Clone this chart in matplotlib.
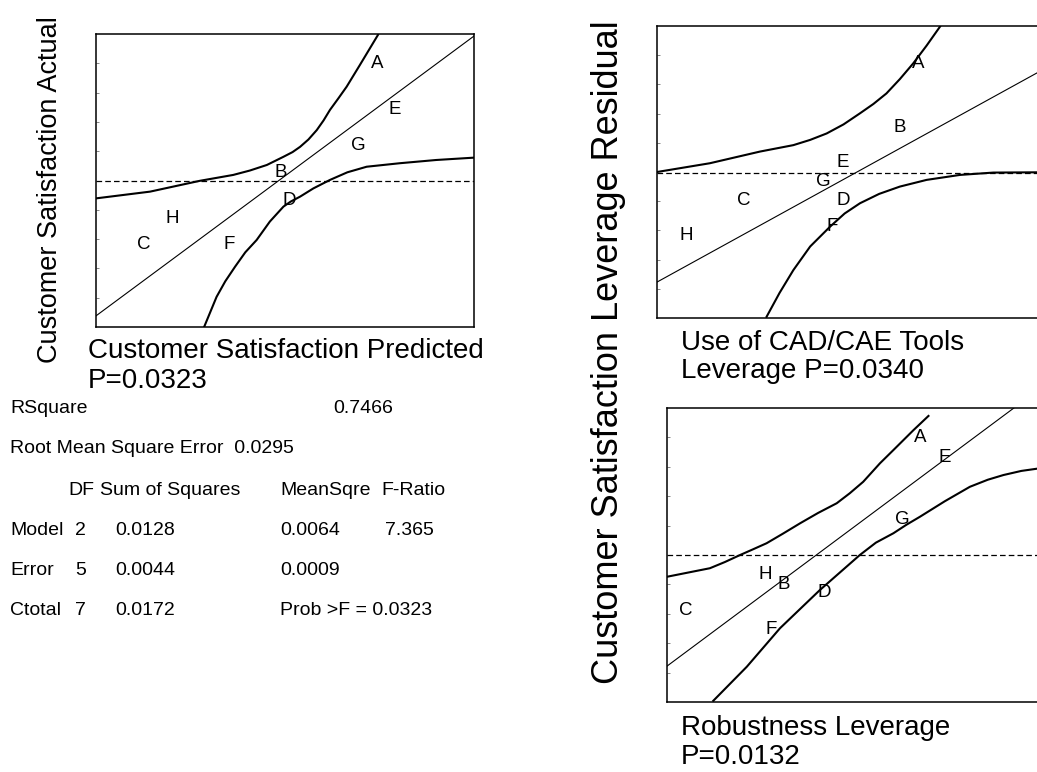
import matplotlib
matplotlib.use("Agg")
import matplotlib.pyplot as plt

plt.rcParams["font.family"] = ["Liberation Sans", "DejaVu Sans"]

# =====================================================
# DATA  (each panel on a 0-100 by 0-100 scale)
# =====================================================

# ----- Actual by Predicted -----
p1_fit_x = [0, 100]
p1_fit_y = [3.8, 99.3]
p1_upper_x = [0, 14.3, 27.5, 36.3, 40.7, 45.2, 49.6, 52.0, 54.0, 56.2, 58.4,
              60.2, 61.9, 64.1, 66.3, 69.8, 74.6]
p1_upper_y = [43.9, 46.2, 49.9, 51.9, 53.4, 55.3, 58.1, 59.7, 61.5, 64.0, 67.2,
              70.5, 74.1, 78.0, 82.0, 89.4, 99.7]
p1_lower_x = [28.6, 31.9, 34.2, 36.8, 39.5, 42.5, 46.0, 49.6, 51.5, 54.0, 57.5,
              61.9, 66.5, 71.6, 80.4, 90.0, 100]
p1_lower_y = [0.0, 10.3, 15.6, 20.6, 25.5, 29.7, 36.0, 41.1, 42.8, 44.5, 47.3,
              50.2, 52.8, 54.7, 55.9, 57.0, 57.8]
p1_mean = 49.8
p1_labels = ["A", "B", "C", "D", "E", "F", "G", "H"]
p1_lab_x = [74.3, 48.9, 12.7, 51.1, 79.1, 35.2, 69.3, 20.1]
p1_lab_y = [89.8, 52.6, 28.0, 43.3, 74.4, 28.3, 61.8, 37.2]

# ----- Use of CAD/CAE Tools leverage -----
p2_fit_x = [0, 100]
p2_fit_y = [12.3, 84.5]
p2_upper_x = [0, 13.8, 26.9, 35.6, 40.0, 44.3, 48.7, 53.0, 56.5, 59.9, 63.4,
              66.9, 70.4, 73.9]
p2_upper_y = [50.0, 53.0, 57.0, 59.2, 61.0, 63.2, 66.3, 70.1, 73.3, 76.9, 81.8,
              87.2, 93.3, 99.8]
p2_lower_x = [28.6, 32.0, 35.6, 40.0, 45.2, 49.0, 53.0, 58.0, 63.4, 70.4, 79.1,
              87.8, 100]
p2_lower_y = [0.4, 8.6, 16.4, 24.5, 31.3, 35.8, 39.3, 42.5, 45.0, 47.3, 49.0,
              49.8, 49.9]
p2_mean = 49.7
p2_labels = ["A", "B", "C", "D", "E", "F", "G", "H"]
p2_lab_x = [68.1, 63.4, 22.7, 48.6, 48.6, 45.7, 43.3, 7.6]
p2_lab_y = [87.0, 65.4, 40.4, 40.4, 53.1, 31.5, 46.6, 28.1]

# ----- Robustness leverage -----
p3_fit_x = [0, 93.0]
p3_fit_y = [12.2, 100]
p3_upper_x = [0, 11.5, 15.5, 19.6, 23.0, 26.7, 31.0, 35.7, 40.5, 45.5, 49.0,
              52.6, 57.1, 60.7, 66.1, 70.1]
p3_upper_y = [42.6, 45.5, 47.6, 50.0, 51.9, 54.0, 57.2, 60.8, 64.3, 67.6, 71.0,
              74.9, 81.2, 85.7, 92.5, 97.3]
p3_lower_x = [12.4, 21.4, 30.3, 41.0, 51.7, 56.0, 60.7, 64.2, 67.8, 74.5, 81.2,
              86.0, 90.2, 95.0, 100]
p3_lower_y = [0.4, 12.0, 25.1, 38.1, 50.0, 54.2, 57.4, 60.3, 63.0, 68.3, 73.2,
              75.6, 77.2, 78.6, 79.5]
p3_mean = 50.0
p3_labels = ["A", "B", "C", "D", "E", "F", "G", "H"]
p3_lab_x = [67.8, 31.4, 5.1, 42.1, 74.5, 27.9, 63.0, 26.3]
p3_lab_y = [89.8, 40.1, 31.0, 37.4, 83.0, 24.5, 62.2, 43.5]

# ----- Summary of fit / ANOVA -----
rsquare = "0.7466"
rmse = "0.0295"
anova_sources = ["Model", "Error", "Ctotal"]
anova_df = ["2", "5", "7"]
anova_ss = ["0.0128", "0.0044", "0.0172"]
anova_ms = ["0.0064", "0.0009", "Prob >F = 0.0323"]
anova_f = ["7.365", "", ""]

W, H = 1037, 772


def px_rect(x0, y0, x1, y1):
    return [x0 / W, 1 - y1 / H, (x1 - x0) / W, (y1 - y0) / H]


def ftext(x, y, s, **kw):
    fig.text(x / W, 1 - y / H, s, **kw)


def leverage_panel(rect, fit_x, fit_y, up_x, up_y, lo_x, lo_y, mean, labs, lx, ly):
    ax = fig.add_axes(px_rect(*rect))
    ax.plot(fit_x, fit_y, color="black", lw=0.8)
    ax.plot(up_x, up_y, color="black", lw=1.5, solid_joinstyle="round")
    ax.plot(lo_x, lo_y, color="black", lw=1.5, solid_joinstyle="round")
    ax.axhline(mean, color="black", lw=0.9, linestyle=(0, (4.5, 2.5)))
    for s, x, y in zip(labs, lx, ly):
        ax.text(x, y, s, fontsize=13.5, ha="center", va="center")
    ax.set_xlim(0, 100)
    ax.set_ylim(0, 100)
    ax.set_xticks([])
    ax.set_yticks([10, 20, 30, 40, 60, 70, 80, 90])
    ax.set_yticklabels([])
    ax.tick_params(axis="y", direction="in", length=2, width=0.5, color="#555555")
    for sp in ax.spines.values():
        sp.set_linewidth(1.1)
    return ax


fig = plt.figure(figsize=(W / 100, H / 100), dpi=100)

leverage_panel((96, 34, 474, 327), p1_fit_x, p1_fit_y, p1_upper_x, p1_upper_y,
               p1_lower_x, p1_lower_y, p1_mean, p1_labels, p1_lab_x, p1_lab_y)
leverage_panel((657, 26, 1040, 318), p2_fit_x, p2_fit_y, p2_upper_x, p2_upper_y,
               p2_lower_x, p2_lower_y, p2_mean, p2_labels, p2_lab_x, p2_lab_y)
leverage_panel((667, 408, 1040, 702), p3_fit_x, p3_fit_y, p3_upper_x, p3_upper_y,
               p3_lower_x, p3_lower_y, p3_mean, p3_labels, p3_lab_x, p3_lab_y)

# axis captions
cap = 20
ftext(50, 190, "Customer Satisfaction Actual", fontsize=19.5, rotation=90,
      ha="center", va="center")
ftext(88, 358, "Customer Satisfaction Predicted", fontsize=cap, ha="left", va="baseline")
ftext(88, 388, "P=0.0323", fontsize=cap, ha="left", va="baseline")
ftext(681, 350, "Use of CAD/CAE Tools", fontsize=cap, ha="left", va="baseline")
ftext(681, 378, "Leverage P=0.0340", fontsize=cap, ha="left", va="baseline")
ftext(681, 735, "Robustness Leverage", fontsize=cap, ha="left", va="baseline")
ftext(681, 764, "P=0.0132", fontsize=cap, ha="left", va="baseline")
ftext(608, 352, "Customer Satisfaction Leverage Residual", fontsize=26, rotation=90,
      ha="center", va="center")

# summary table
fs = 14
ftext(10, 413, "RSquare", fontsize=fs)
ftext(333, 413, rsquare, fontsize=fs)
ftext(10, 453, "Root Mean Square Error  " + rmse, fontsize=fs)
ftext(68, 495, "DF", fontsize=fs)
ftext(100, 495, "Sum of Squares", fontsize=fs)
ftext(280, 495, "MeanSqre", fontsize=fs)
ftext(381, 495, "F-Ratio", fontsize=fs)
for i, src in enumerate(anova_sources):
    yb = 535 + 40 * i
    ftext(10, yb, src, fontsize=fs)
    ftext(75, yb, anova_df[i], fontsize=fs)
    ftext(115, yb, anova_ss[i], fontsize=fs)
    ftext(280, yb, anova_ms[i], fontsize=fs)
    ftext(385, yb, anova_f[i], fontsize=fs)

fig.savefig("out.png", dpi=100)
